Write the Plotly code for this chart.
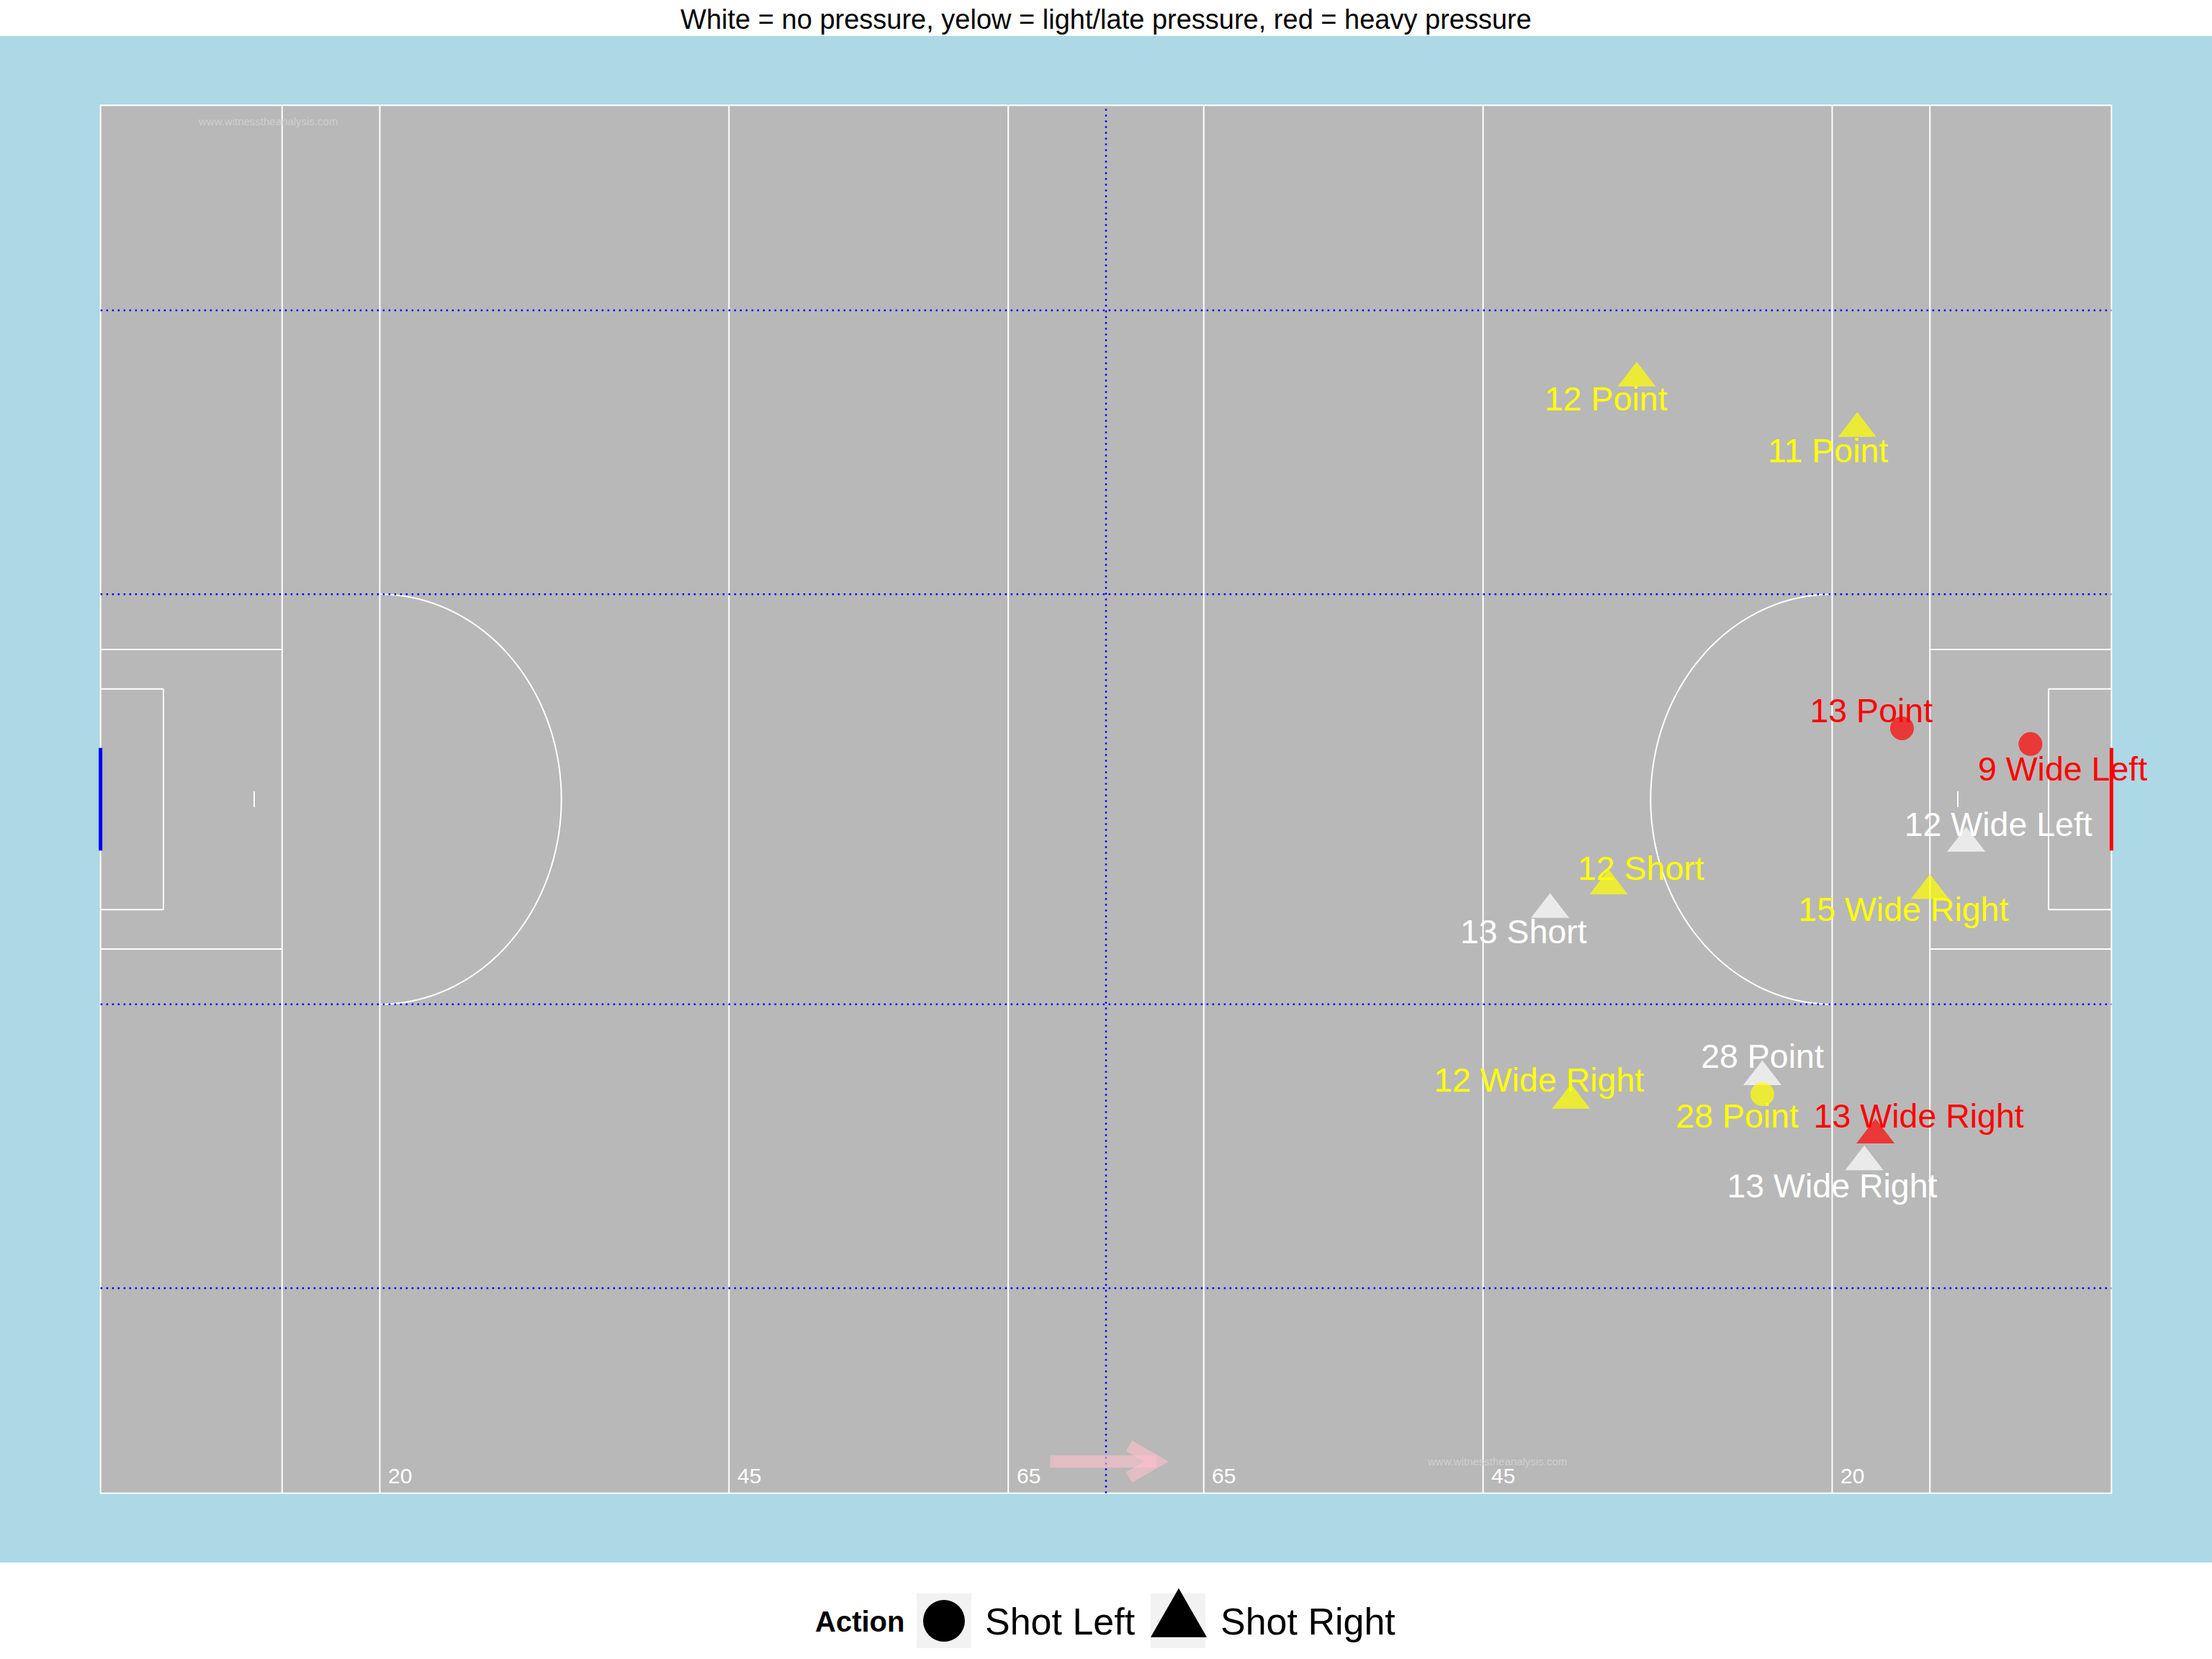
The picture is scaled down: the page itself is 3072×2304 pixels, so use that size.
import numpy as np
import plotly.graph_objects as go

# ---------------- data ----------------
shot_label = ["12 Point", "11 Point", "13 Point", "9 Wide Left", "12 Wide Left",
              "12 Short", "13 Short", "15 Wide Right", "28 Point", "28 Point",
              "12 Wide Right", "13 Wide Right", "13 Wide Right"]
shot_action = ["Shot Right", "Shot Right", "Shot Left", "Shot Left", "Shot Right",
               "Shot Right", "Shot Right", "Shot Right", "Shot Right", "Shot Left",
               "Shot Right", "Shot Right", "Shot Right"]
shot_pressure = ["light", "light", "heavy", "heavy", "none",
                 "light", "none", "light", "none", "light",
                 "light", "heavy", "none"]
shot_x = [110.0, 125.8, 129.0, 138.2, 133.6, 108.0, 103.8, 131.0, 119.0, 119.0, 105.3, 127.1, 126.3]
shot_y = [70.7, 67.5, 48.5, 47.5, 41.2, 38.5, 37.0, 38.2, 26.4, 25.3, 24.9, 22.7, 21.0]
label_x = [107.8, 123.7, 126.8, 140.5, 135.9, 110.3, 101.9, 129.1, 119.0, 117.2, 103.0, 130.2, 124.0]
label_y = [69.2, 65.9, 49.4, 45.7, 42.2, 39.4, 35.4, 36.8, 27.5, 23.7, 26.0, 23.7, 19.3]

pitch_length = 144
pitch_width = 88
line_marks = [13, 20, 45, 65]
line_tick_x = [20, 45, 65, 79, 99, 124]
line_tick_text = ["20", "45", "65", "65", "45", "20"]
zone_lines_y = [13, 31, 57, 75]

title_text = "White = no pressure, yelow = light/late pressure, red = heavy pressure"
legend_title = "Action"
legend_items = ["Shot Left", "Shot Right"]
watermark = "www.witnesstheanalysis.com"

# ---------------- styles ----------------
FONT = "Liberation Sans, Arial, Helvetica, sans-serif"
pressure_color = {"none": "#ffffff", "light": "#ffff00", "heavy": "#ff0000"}
action_symbol = {"Shot Left": "circle", "Shot Right": "triangle-up"}
action_size = {"Shot Left": 33, "Shot Right": 46}
W_PX, H_PX = 3072, 2304

L, W = pitch_length, pitch_width
shapes = []


def seg(x0, y0, x1, y1, color="white", width=2, dash=None):
    ln = dict(color=color, width=width)
    if dash:
        ln["dash"] = dash
    shapes.append(dict(type="line", xref="x", yref="y", x0=x0, y0=y0, x1=x1, y1=y1,
                       line=ln, layer="below"))


# pitch surface
shapes.append(dict(type="rect", xref="x", yref="y", x0=0, y0=0, x1=L, y1=W,
                   fillcolor="#b8b8b8", line=dict(color="white", width=2), layer="below"))
# transverse lines
for m in line_marks:
    seg(m, 0, m, W)
    seg(L - m, 0, L - m, W)
# large rectangles
for yy in (34.5, 53.5):
    seg(0, yy, 13, yy)
    seg(L - 13, yy, L, yy)
# small rectangles
for yy in (37, 51):
    seg(0, yy, 4.5, yy)
    seg(L - 4.5, yy, L, yy)
seg(4.5, 37, 4.5, 51)
seg(L - 4.5, 37, L - 4.5, 51)
# penalty marks
seg(11, 43.5, 11, 44.5)
seg(L - 11, 43.5, L - 11, 44.5)
# arcs (radius 13 around 20m line centre)
t = np.linspace(-np.pi / 2, np.pi / 2, 90)
left_arc = "M " + " L ".join(f"{20 + 13 * np.cos(a):.3f},{W / 2 + 13 * np.sin(a):.3f}" for a in t)
right_arc = "M " + " L ".join(f"{L - 20 - 13 * np.cos(a):.3f},{W / 2 + 13 * np.sin(a):.3f}" for a in t)
for p in (left_arc, right_arc):
    shapes.append(dict(type="path", xref="x", yref="y", path=p,
                       line=dict(color="white", width=2), layer="below"))
# dotted zone lines
for yy in zone_lines_y:
    seg(0, yy, L, yy, color="#0000ff", width=2.5, dash="2.5px,5.5px")
seg(L / 2, 0, L / 2, W, color="#0000ff", width=2.5, dash="2.5px,5.5px")
# goals
seg(0, 40.75, 0, 47.25, color="#0000ff", width=5)
seg(L, 40.75, L, 47.25, color="#ff0000", width=5)

# direction arrow
pink = "rgba(255,192,203,0.6)"
shapes.append(dict(type="line", xref="x", yref="y", x0=68.0, y0=2, x1=75.6, y1=2,
                   line=dict(color=pink, width=17), layer="above"))
shapes.append(dict(type="path", xref="x", yref="y", path="M 73.65,3.0 L 75.6,2.0 L 73.65,1.0",
                   line=dict(color=pink, width=17), layer="above"))


# ---------------- legend (drawn in figure pixels) ----------------
def px(x):
    return x / W_PX


def py(y):
    return 1 - y / H_PX


for bx in (1273, 1598):
    shapes.append(dict(type="rect", xref="paper", yref="paper",
                       x0=px(bx), x1=px(bx + 76), y0=py(2289), y1=py(2213),
                       fillcolor="#f2f2f2", line=dict(width=0), layer="above"))
shapes.append(dict(type="circle", xref="paper", yref="paper",
                   x0=px(1282), x1=px(1340), y0=py(2280), y1=py(2222),
                   fillcolor="black", line=dict(width=0), layer="above"))
shapes.append(dict(type="path", xref="paper", yref="paper",
                   path=f"M {px(1598)},{py(2273.7)} L {px(1676)},{py(2273.7)} L {px(1637)},{py(2205.7)} Z",
                   fillcolor="black", line=dict(width=0), layer="above"))

annotations = []
for xx, tx in zip(line_tick_x, line_tick_text):
    annotations.append(dict(x=xx + 0.5, y=1.1, xref="x", yref="y", text=tx, showarrow=False,
                            xanchor="left", yanchor="middle",
                            font=dict(family=FONT, size=30, color="white")))
for xx, yy in ((12, 87), (100, 2)):
    annotations.append(dict(x=xx, y=yy, xref="x", yref="y", text=watermark, showarrow=False,
                            xanchor="center", yanchor="middle",
                            font=dict(family=FONT, size=15, color="#cfcfcf")))
annotations.append(dict(x=px(1130), y=py(2252), xref="paper", yref="paper",
                        text=f"<b>{legend_title}</b>", showarrow=False,
                        xanchor="left", yanchor="middle",
                        font=dict(family=FONT, size=40, color="black")))
for xx, tx in zip((1366, 1693), legend_items):
    annotations.append(dict(x=px(xx), y=py(2252), xref="paper", yref="paper",
                            text=tx, showarrow=False, xanchor="left", yanchor="middle",
                            font=dict(family=FONT, size=52, color="black")))

# ---------------- traces ----------------
fig = go.Figure()
fig.add_trace(go.Scatter(
    x=shot_x, y=shot_y, mode="markers",
    marker=dict(symbol=[action_symbol[a] for a in shot_action],
                size=[action_size[a] for a in shot_action],
                color=[pressure_color[p] for p in shot_pressure],
                line=dict(width=0)),
    text=shot_label, hoverinfo="text", showlegend=False, cliponaxis=False))
fig.add_trace(go.Scatter(
    x=label_x, y=label_y, mode="text", text=shot_label,
    textposition="middle center",
    textfont=dict(family=FONT, size=46.5, color=[pressure_color[p] for p in shot_pressure]),
    hoverinfo="skip", showlegend=False, cliponaxis=False))

fig.update_layout(
    width=W_PX, height=H_PX, autosize=False,
    margin=dict(l=0, r=0, t=0, b=0, pad=0),
    paper_bgcolor="white", plot_bgcolor="#add8e6",
    title=dict(text=title_text, x=0.5, xanchor="center", y=1 - 27 / H_PX, yanchor="middle",
               yref="container", font=dict(family=FONT, size=38, color="black")),
    xaxis=dict(range=[-7.2, 151.2], domain=[0, 1], visible=False, fixedrange=True),
    yaxis=dict(range=[-4.4, 92.4], domain=[134 / H_PX, 1 - 50 / H_PX], visible=False, fixedrange=True),
    shapes=shapes, annotations=annotations, showlegend=False,
)

fig.write_html("out.html", config={"displayModeBar": False},
               post_script="document.body.style.margin='0px';document.body.style.overflow='hidden';")
